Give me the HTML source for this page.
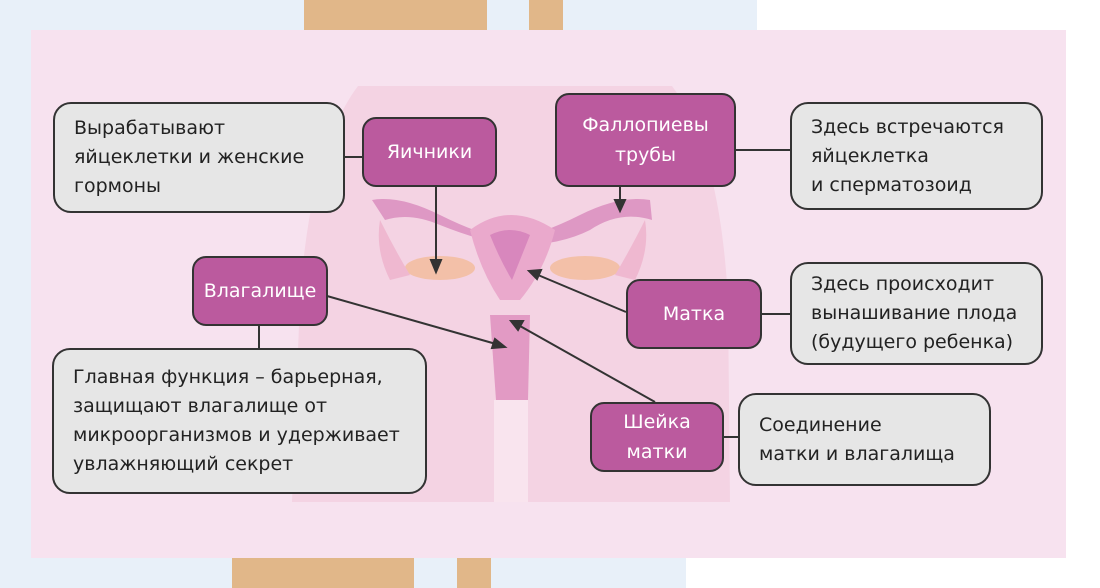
<!DOCTYPE html>
<html><head><meta charset="utf-8"><style>
body{margin:0;width:1100px;height:588px;position:relative;overflow:hidden;background:#fff;font-family:"DejaVu Sans","Liberation Sans",sans-serif}
.a{position:absolute}
.g{position:absolute;background:#e6e6e6;border:2px solid #333;border-radius:18px;box-sizing:border-box;color:#222;font-size:19px;line-height:29px;padding-left:19px;display:flex;align-items:center;white-space:nowrap}
.p{position:absolute;background:#bb5a9e;border:2px solid #333;border-radius:14px;box-sizing:border-box;color:#fff;font-size:19px;line-height:30px;text-align:center;display:flex;align-items:center;justify-content:center}
</style></head><body>
<div class="a" style="left:0;top:0;width:757px;height:300px;background:#e8f0f9"></div>
<div class="a" style="left:0;top:300px;width:686px;height:288px;background:#e8f0f9"></div>
<div class="a" style="left:304px;top:0;width:183px;height:30px;background:#e1b789"></div>
<div class="a" style="left:529px;top:0;width:34px;height:30px;background:#e1b789"></div>
<div class="a" style="left:232px;top:558px;width:182px;height:30px;background:#e1b789"></div>
<div class="a" style="left:457px;top:558px;width:34px;height:30px;background:#e1b789"></div>
<div class="a" style="left:31px;top:30px;width:1035px;height:528px;background:#f7e2ef"></div>
<svg class="a" style="left:0;top:0" width="1100" height="588">
<path d="M358 86 L672 86 Q720 150 728 300 L730 502 L292 502 L300 300 Q310 150 358 86Z" fill="#f4d3e3"/>
<rect x="494" y="400" width="34" height="102" fill="#f9e4ee"/>
<path d="M372 200 Q400 195 440 215 Q480 235 510 240 Q540 235 580 215 Q620 195 650 200 L652 220 Q620 210 590 230 Q560 245 520 245 Q490 245 440 225 Q410 212 385 220 Z" fill="#de98c4"/>
<path d="M470 230 Q510 200 555 230 Q545 270 520 300 L500 300 Q480 270 470 230Z" fill="#eaa9cc"/>
<path d="M490 235 Q510 225 530 235 Q520 260 512 280 Q500 260 490 235Z" fill="#d887bd"/>
<ellipse cx="440" cy="268" rx="35" ry="12" fill="#f3c0a8"/>
<ellipse cx="585" cy="268" rx="35" ry="12" fill="#f3c0a8"/>
<path d="M380 220 Q395 250 410 275 L390 280 Q375 250 380 220Z" fill="#efb8d0"/>
<path d="M645 220 Q630 250 615 275 L635 280 Q650 250 645 220Z" fill="#efb8d0"/>
<path d="M490 315 L530 315 L528 400 L496 400Z" fill="#e29ac4"/>
<g stroke="#333" stroke-width="2" fill="#333">
<line x1="344" y1="157" x2="362" y2="157"/>
<line x1="436" y1="186" x2="436" y2="262"/><path d="M431 260 L436 272 L441 260Z"/>
<line x1="620" y1="186" x2="620" y2="202"/><path d="M615 200 L620 211 L625 200Z"/>
<line x1="735" y1="150" x2="790" y2="150"/>
<line x1="626" y1="312" x2="538" y2="275"/><path d="M529 271 L541 270 L537 279Z"/>
<line x1="761" y1="314" x2="790" y2="314"/>
<line x1="327" y1="296" x2="496" y2="344"/><path d="M505 347 L495 339 L492 348Z"/>
<line x1="259" y1="325" x2="259" y2="348"/>
<line x1="655" y1="402" x2="520" y2="326"/><path d="M511 321 L523 321 L518 330Z"/>
<line x1="723" y1="437" x2="738" y2="437"/>
</g>
</svg>
<div class="g" style="left:53px;top:102px;width:292px;height:111px">Вырабатывают<br>яйцеклетки и женские<br>гормоны</div>
<div class="p" style="left:362px;top:117px;width:135px;height:70px">Яичники</div>
<div class="p" style="left:555px;top:93px;width:181px;height:94px">Фаллопиевы<br>трубы</div>
<div class="g" style="left:790px;top:102px;width:253px;height:108px">Здесь встречаются<br>яйцеклетка<br>и сперматозоид</div>
<div class="p" style="left:192px;top:256px;width:136px;height:70px">Влагалище</div>
<div class="p" style="left:626px;top:279px;width:136px;height:70px">Матка</div>
<div class="g" style="left:790px;top:262px;width:253px;height:103px">Здесь происходит<br>вынашивание плода<br>(будущего ребенка)</div>
<div class="g" style="left:52px;top:348px;width:375px;height:146px">Главная функция – барьерная,<br>защищают влагалище от<br>микроорганизмов и удерживает<br>увлажняющий секрет</div>
<div class="p" style="left:590px;top:402px;width:134px;height:70px">Шейка<br>матки</div>
<div class="g" style="left:738px;top:393px;width:253px;height:93px">Соединение<br>матки и влагалища</div>
</body></html>
